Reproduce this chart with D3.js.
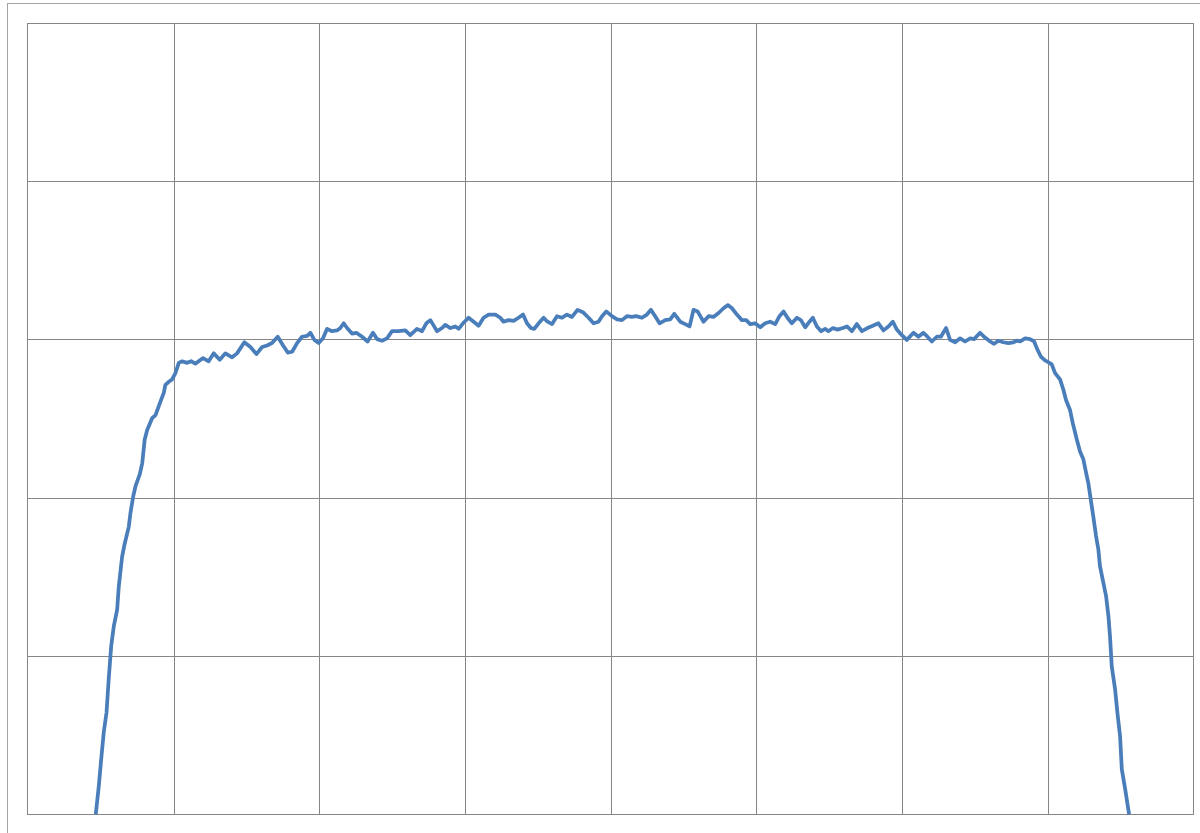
<!DOCTYPE html>
<html>
<head>
<meta charset="utf-8">
<script src="https://cdn.jsdelivr.net/npm/d3@7/dist/d3.min.js"></script>
<style>
  html, body { margin: 0; padding: 0; background: #ffffff; }
  svg { display: block; }
</style>
</head>
<body>
<svg id="chart" width="1200" height="833"></svg>
<script>
// Measured profile: position along the scan vs. level
const positions = [
  46.5, 48.6, 50.2, 52.0, 53.9, 55.4, 57.1, 58.9, 61.2, 62.3, 64.6, 66.2, 69.2, 70.3, 72.2, 73.8,
  76.7, 78.4, 80.1, 81.8, 85.2, 87.5, 90.9, 93.2, 94.3, 96.6, 98.9, 101.2, 103.5,
  105.8, 109.2, 112.0, 114.9, 120.2, 124.0, 127.5, 131.6, 135.5, 140.1, 143.5, 148.5, 152.7, 156.8,
  160.7, 164.1, 167.5, 171.4, 175.1, 178.3, 181.3, 184.7, 188.1, 191.6, 193.8, 196.6, 199.5, 202.5,
  205.3, 208.7, 212.1, 214.4, 216.7, 219.0, 222.4, 225.4, 229.3, 233.1, 236.8, 239.6, 243.0, 246.4,
  249.9, 254.4, 259.0, 262.4, 267.0, 270.5, 273.4, 276.2, 280.8, 284.2, 286.4, 289.9, 293.3, 295.6,
  298.6, 302.4, 305.9, 309.3, 312.7, 316.2, 320.8, 324.2, 326.4, 329.9, 333.3, 336.7, 339.8, 342.5,
  345.2, 347.5, 350.5, 353.9, 356.6, 359.7, 363.1, 366.5, 369.9, 373.4, 377.2, 380.9, 384.8, 388.2,
  391.6, 394.0, 396.9, 400.8, 404.3, 407.7, 411.1, 414.5, 417.5, 421.4, 424.8, 427.6, 430.5, 433.5,
  437.4, 440.8, 443.6, 447.7, 451.1, 454.1, 456.8, 459.6, 463.7, 467.1, 470.5, 474.0, 477.4, 480.4,
  483.2, 486.6, 490.0, 493.0, 495.7, 499.1, 502.6, 506.0, 509.4, 512.9, 515.8, 518.6, 521.3, 524.3,
  527.8, 530.5, 533.5, 536.4, 538.7, 541.5, 544.4, 547.2, 549.4, 552.5, 555.6, 559.3, 562.1, 565.5,
  568.9, 572.4, 576.2, 579.9, 583.7, 587.2, 590.6, 593.6, 596.4, 599.8, 603.2, 607.8, 611.2, 614.6,
  616.9, 620.4, 623.8, 626.6, 630.2, 632.9, 636.4, 639.8, 643.2, 646.7, 649.4, 653.5, 656.9, 660.4,
  663.1, 666.1, 669.5, 672.9, 676.4, 678.7, 681.0, 684.4, 687.8, 690.6, 692.8, 695.2, 698.1, 701.1,
  702.7, 705.0, 708.4, 710.7, 712.5, 715.3, 717.1, 719.9, 722.1, 724.4, 726.3, 727.8, 729.5, 731.2,
  733.1, 734.7, 735.8, 738.1, 740.0, 741.6, 742.7, 743.9, 746.2, 747.8, 749.6, 750.8, 753.1, 755.8
];
const levels = [
  0, 3.6, 6.9, 10.4, 12.9, 17.1, 21.3, 23.8, 25.9, 28.8, 32.6, 34.1, 36.4, 38.1, 40.2, 41.5,
  43.0, 44.4, 47.4, 48.6, 50.1, 50.5, 52.2, 53.3, 54.3, 54.7, 55.0, 55.8, 57.1,
  57.3, 57.1, 57.3, 57.0, 57.7, 57.3, 58.3, 57.5, 58.3, 57.8, 58.3, 59.7, 59.1, 58.2,
  59.1, 59.3, 59.6, 60.4, 59.3, 58.4, 58.5, 59.6, 60.4, 60.5, 60.9, 60.0, 59.6, 60.2,
  61.4, 61.1, 61.2, 61.5, 62.1, 61.5, 60.8, 60.9, 60.4, 59.8, 60.9, 60.1, 59.9, 60.2,
  61.1, 61.1, 61.2, 60.6, 61.4, 61.1, 62.1, 62.5, 61.1, 61.5, 61.9, 61.5, 61.7, 61.4,
  62.1, 62.8, 62.3, 61.8, 62.8, 63.2, 63.2, 62.8, 62.3, 62.5, 62.4, 62.8, 63.2, 62.1,
  61.5, 61.4, 62.1, 62.8, 62.3, 62.0, 63.0, 62.8, 63.2, 62.9, 63.8, 63.5, 62.8, 62.1,
  62.3, 63.0, 63.6, 63.0, 62.6, 62.5, 63.0, 62.9, 63.0, 62.8, 63.2, 63.8, 63.0, 62.1,
  62.5, 62.6, 63.3, 62.3, 62.0, 61.7, 63.8, 63.6, 62.3, 63.0, 62.9, 63.4, 64.0, 64.4,
  64.0, 63.2, 62.5, 62.5, 62.0, 62.1, 61.6, 62.1, 62.3, 62.0, 63.0, 63.6, 62.8, 62.1,
  62.8, 62.5, 61.6, 62.3, 62.8, 61.7, 61.1, 61.4, 61.1, 61.5, 61.3, 61.5, 61.7, 61.1,
  62.0, 61.1, 61.5, 61.8, 62.1, 61.2, 61.7, 62.3, 61.3, 60.6, 60.0, 60.9, 60.4, 60.9,
  60.5, 59.8, 60.4, 60.4, 61.5, 60.0, 59.7, 60.2, 59.8, 60.2, 60.1, 60.9, 60.3, 59.8,
  59.5, 59.9, 59.7, 59.6, 59.7, 59.9, 59.8, 60.2, 60.1, 59.8, 58.8, 57.9, 57.4, 57.1,
  56.9, 55.8, 55.0, 53.7, 52.4, 51.1, 49.5, 47.4, 45.9, 44.9, 43.2, 41.9, 39.8, 37.7,
  35.2, 33.5, 31.4, 29.3, 27.6, 25.1, 22.5, 18.7, 15.8, 12.8, 9.9, 5.7, 3.2, 0
];

// Gridline positions (no labels are shown on either axis)
const xTicks = [100, 200, 300, 400, 500, 600, 700];
const yTicks = [20, 40, 60, 80];

const svg = d3.select("#chart");

// Outer chart frame
svg.append("rect")
  .attr("x", 7.5).attr("y", 3.5)
  .attr("width", 1220).attr("height", 860)
  .attr("fill", "#ffffff")
  .attr("stroke", "#a3a3a3")
  .attr("stroke-width", 1);

const plot = { left: 28, top: 23.5, right: 1193.5, bottom: 814.5 };

const x = d3.scaleLinear().domain([0, 800]).range([plot.left, plot.right]);
const y = d3.scaleLinear().domain([0, 100]).range([plot.bottom, plot.top]);

const snap = v => Math.round(v) + 0.5;

// Plot area border
svg.append("rect")
  .attr("x", 27.5).attr("y", plot.top)
  .attr("width", plot.right - 27.5).attr("height", plot.bottom - plot.top)
  .attr("fill", "none")
  .attr("stroke", "#868686")
  .attr("stroke-width", 1);

// Vertical gridlines
const xGrid = svg.append("g")
  .attr("transform", `translate(0,${plot.bottom})`)
  .call(d3.axisBottom(x).tickValues(xTicks).tickSize(-(plot.bottom - plot.top)).tickFormat(""));
xGrid.select(".domain").remove();
xGrid.selectAll(".tick").attr("transform", d => `translate(${snap(x(d))},0)`);
xGrid.selectAll(".tick line").attr("stroke", "#868686").attr("stroke-width", 1);

// Horizontal gridlines
const yGrid = svg.append("g")
  .attr("transform", `translate(${plot.left},0)`)
  .call(d3.axisLeft(y).tickValues(yTicks).tickSize(-(plot.right - plot.left)).tickFormat(""));
yGrid.select(".domain").remove();
yGrid.selectAll(".tick").attr("transform", d => `translate(0,${Math.floor(y(d)) + 0.5})`);
yGrid.selectAll(".tick line").attr("stroke", "#868686").attr("stroke-width", 1);

// Profile line
const points = positions.map((p, i) => [p, levels[i]]);
const line = d3.line()
  .x(d => x(d[0]))
  .y(d => y(d[1]))
  .curve(d3.curveLinear);

svg.append("path")
  .datum(points)
  .attr("d", line)
  .attr("fill", "none")
  .attr("stroke", "#4a7ebb")
  .attr("stroke-width", 3.75)
  .attr("stroke-linejoin", "round")
  .attr("stroke-linecap", "butt");
</script>
</body>
</html>
